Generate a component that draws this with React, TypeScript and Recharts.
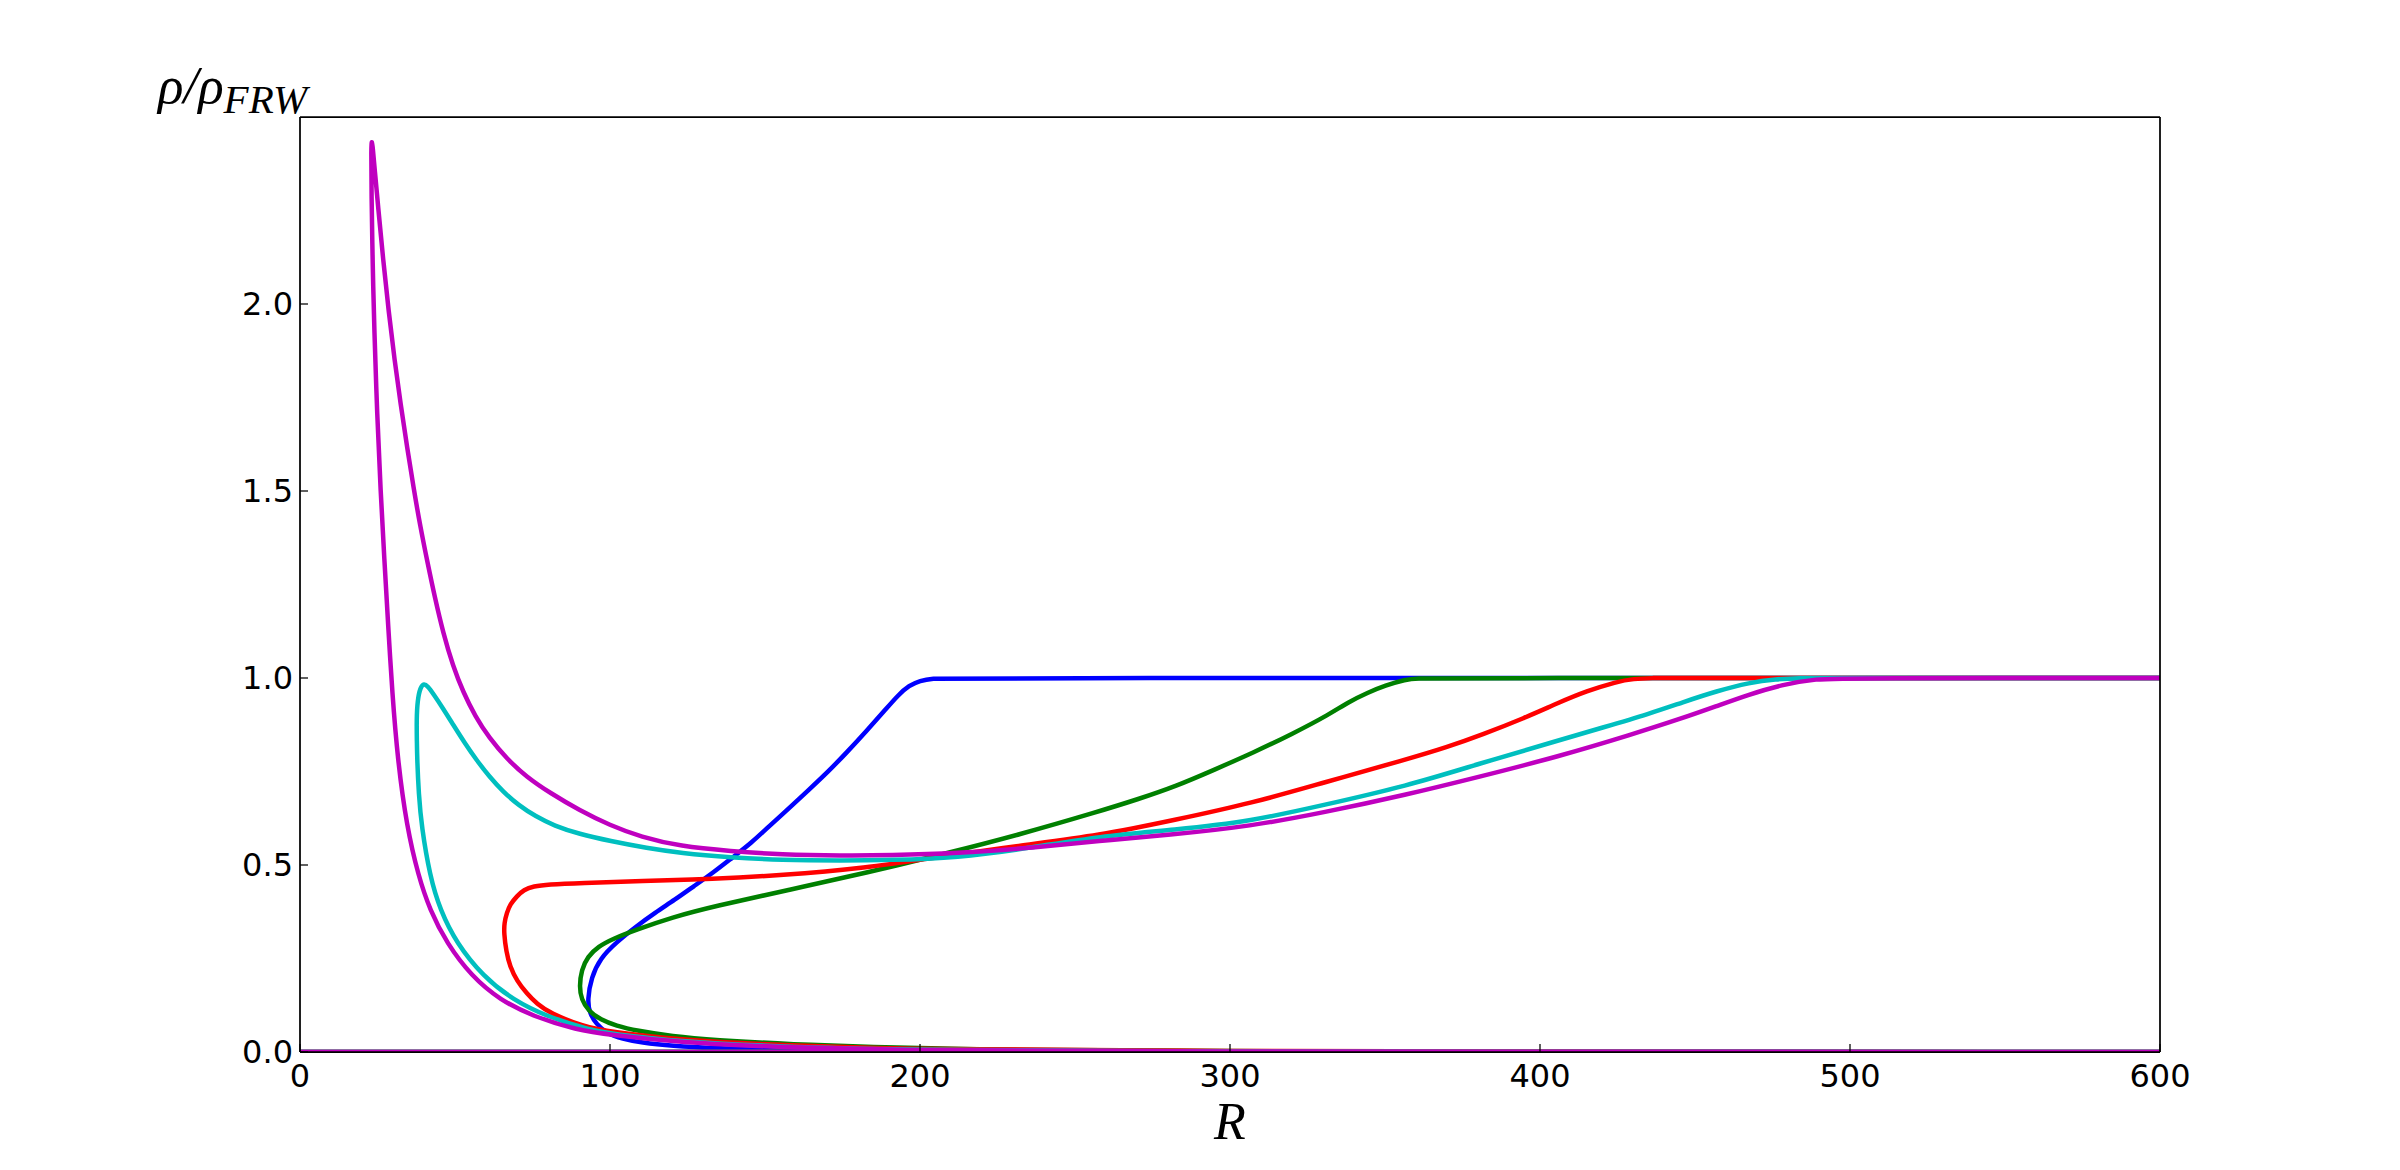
import { LineChart, Line, XAxis, YAxis } from 'recharts'

// each curve: upper branch from the right plateau going left, round the turn,
// lower branch going right down to zero, then back along rho = 0
const blueR = [600, 210, 204, 200, 196.5, 193, 188.5, 182.7, 176.5, 170.3, 164, 157.9, 151.5, 145.6, 139.5, 133.2, 127, 120.9, 114.5, 108.5, 102, 96.8, 94, 92.7, 93.4, 95.5, 99, 104, 110, 120, 133.2, 160, 200, 250, 600, 600, 600, 0]
const blueRho = [1, 1, 0.999, 0.993, 0.98, 0.955, 0.912, 0.858, 0.802, 0.749, 0.7, 0.653, 0.605, 0.559, 0.52, 0.479, 0.443, 0.407, 0.372, 0.336, 0.293, 0.25, 0.2, 0.139, 0.105, 0.075, 0.05, 0.035, 0.025, 0.016, 0.01, 0.004, 0.001, 0, 0, 0, 0, 0]

const greenR = [600, 369, 360, 356.8, 350, 344.5, 338, 332.1, 320, 307.4, 295, 282.7, 270, 258, 232, 208, 182.6, 158, 133.2, 120, 108.5, 101, 96.2, 92.8, 90.8, 90.1, 90.8, 93, 97, 102, 108.5, 120, 133.2, 160, 182.6, 220, 270, 600, 600, 600, 0]
const greenRho = [1, 1, 0.999, 0.996, 0.98, 0.961, 0.935, 0.903, 0.85, 0.8, 0.755, 0.711, 0.675, 0.644, 0.581, 0.53, 0.479, 0.434, 0.389, 0.36, 0.327, 0.303, 0.282, 0.255, 0.22, 0.175, 0.14, 0.11, 0.086, 0.07, 0.057, 0.042, 0.032, 0.02, 0.014, 0.006, 0.001, 0, 0, 0, 0]

const redR = [600, 440, 437, 430, 424.7, 415, 406, 395, 381.5, 370, 356.8, 330, 307.4, 282, 258, 232, 205, 182.6, 155, 133.2, 110, 90.3, 80, 75.3, 72.2, 69.9, 67.8, 66.7, 65.9, 65.8, 66.5, 67.7, 70, 73.1, 76.5, 80.6, 91.4, 100, 122.6, 154.8, 195, 250, 600, 600, 600, 0]
const redRho = [1, 1, 1, 0.998, 0.99, 0.965, 0.934, 0.893, 0.849, 0.815, 0.782, 0.72, 0.666, 0.62, 0.579, 0.552, 0.52, 0.492, 0.472, 0.463, 0.457, 0.452, 0.448, 0.443, 0.434, 0.416, 0.395, 0.372, 0.345, 0.318, 0.27, 0.229, 0.19, 0.157, 0.128, 0.104, 0.068, 0.054, 0.032, 0.018, 0.008, 0.002, 0, 0, 0, 0]

const cyanR = [600, 490, 484, 476, 467.7, 457, 446, 435.5, 420, 406, 380, 357, 330, 307, 282, 258, 235, 212, 190, 175, 155, 139, 122.6, 112, 100, 90, 82, 76, 70.5, 65.6, 61, 57, 53, 49.5, 46.2, 43, 41.2, 40, 38.8, 37.9, 37.6, 37.7, 37.8, 38.3, 39.2, 41.9, 45.2, 50.5, 59.1, 68.8, 79.6, 93.5, 101, 122.6, 154.8, 195, 250, 600, 600, 600, 0]
const cyanRho = [1, 1, 1, 0.997, 0.988, 0.965, 0.935, 0.905, 0.867, 0.833, 0.77, 0.711, 0.66, 0.617, 0.594, 0.577, 0.545, 0.519, 0.513, 0.512, 0.513, 0.52, 0.532, 0.545, 0.564, 0.583, 0.605, 0.63, 0.66, 0.695, 0.737, 0.78, 0.828, 0.874, 0.918, 0.958, 0.978, 0.986, 0.975, 0.94, 0.889, 0.83, 0.782, 0.69, 0.604, 0.47, 0.38, 0.291, 0.202, 0.139, 0.095, 0.059, 0.048, 0.028, 0.014, 0.006, 0.001, 0, 0, 0, 0]

const magentaR = [600, 500, 489, 478, 467, 457, 445, 430, 406, 380, 357, 330, 307, 280, 258, 235, 212, 190, 175, 155, 139, 122.6, 110, 100, 90, 80.6, 73, 66.7, 61, 56.5, 52.7, 49.3, 46.2, 43.5, 41.1, 38.8, 36.6, 34.5, 32.5, 30.5, 28.6, 26.8, 25.2, 24.1, 23.5, 23.2, 22.95, 23.05, 23.45, 23.95, 24.9, 26.0, 27.2, 28.45, 29.75, 31.5, 34.4, 38.2, 41.9, 47.3, 55.4, 64.5, 75.3, 89.2, 100, 122.6, 154.8, 195, 250, 600, 600, 600, 0]
const magentaRho = [1, 1, 0.998, 0.982, 0.955, 0.925, 0.89, 0.85, 0.79, 0.735, 0.688, 0.64, 0.604, 0.58, 0.565, 0.545, 0.531, 0.526, 0.525, 0.528, 0.537, 0.55, 0.575, 0.606, 0.647, 0.693, 0.736, 0.784, 0.84, 0.898, 0.961, 1.033, 1.12, 1.215, 1.31, 1.405, 1.51, 1.62, 1.73, 1.85, 1.98, 2.12, 2.26, 2.36, 2.415, 2.44, 2.42, 2.3, 2.1, 1.935, 1.7, 1.5, 1.318, 1.139, 0.961, 0.782, 0.604, 0.47, 0.38, 0.291, 0.202, 0.139, 0.095, 0.059, 0.046, 0.025, 0.013, 0.005, 0.001, 0, 0, 0, 0]

const xTicks = [0, 100, 200, 300, 400, 500, 600]
const yTicks = [0, 0.5, 1.0, 1.5, 2.0]

const toPoints = (rs: number[], rhos: number[]) => rs.map((r, i) => ({ R: r, rho: rhos[i] }))

const series = [
  { name: 'blue', color: '#0000ff', data: toPoints(blueR, blueRho) },
  { name: 'green', color: '#008000', data: toPoints(greenR, greenRho) },
  { name: 'red', color: '#ff0000', data: toPoints(redR, redRho) },
  { name: 'cyan', color: '#00bfbf', data: toPoints(cyanR, cyanRho) },
  { name: 'magenta', color: '#bf00bf', data: toPoints(magentaR, magentaRho) },
]

const tickFont = { fill: '#000', fontSize: 32, fontFamily: 'DejaVu Sans' }

const YLabel = (props: any) => {
  const { viewBox } = props
  return (
    <text
      x={viewBox.x - 42}
      y={viewBox.y - 14}
      fontFamily="Liberation Serif"
      fontStyle="italic"
      fontSize={53}
      fill="#000"
    >
      <tspan>ρ/ρ</tspan>
      <tspan fontSize={41} dy={10}>FRW</tspan>
    </text>
  )
}

const XLabel = (props: any) => {
  const { viewBox } = props
  return (
    <text
      x={viewBox.x + viewBox.width / 2}
      y={viewBox.y + 87}
      textAnchor="middle"
      fontFamily="Liberation Serif"
      fontStyle="italic"
      fontSize={52}
      fill="#000"
    >
      R
    </text>
  )
}

export default function App() {
  return (
    <div style={{ position: 'absolute', left: 0, top: 0, background: '#fff' }}>
      <LineChart width={2400} height={1170} margin={{ top: 107, right: 230, bottom: 58, left: 200 }}>
        <XAxis
          type="number"
          dataKey="R"
          domain={[0, 600]}
          ticks={xTicks}
          allowDataOverflow
          height={60}
          tickSize={-8}
          tickMargin={20}
          tick={tickFont}
          axisLine={{ stroke: '#000', strokeWidth: 1.75 }}
          tickLine={{ stroke: '#000', strokeWidth: 1.25 }}
          label={<XLabel />}
        />
        <XAxis
          xAxisId="top"
          orientation="top"
          type="number"
          dataKey="R"
          domain={[0, 600]}
          ticks={xTicks}
          allowDataOverflow
          height={10}
          tickSize={-8}
          tick={false}
          axisLine={{ stroke: '#000', strokeWidth: 1.75 }}
          tickLine={{ stroke: '#000', strokeWidth: 1.25 }}
        />
        <YAxis
          type="number"
          dataKey="rho"
          domain={[0, 2.5]}
          ticks={yTicks}
          allowDataOverflow
          width={100}
          tickSize={-8}
          tickMargin={15}
          tick={tickFont}
          tickFormatter={(v: number) => v.toFixed(1)}
          axisLine={{ stroke: '#000', strokeWidth: 1.75 }}
          tickLine={{ stroke: '#000', strokeWidth: 1.25 }}
          label={<YLabel />}
        />
        <YAxis
          yAxisId="right"
          orientation="right"
          type="number"
          domain={[0, 2.5]}
          ticks={yTicks}
          allowDataOverflow
          width={10}
          tickSize={-8}
          tick={false}
          axisLine={{ stroke: '#000', strokeWidth: 1.75 }}
          tickLine={{ stroke: '#000', strokeWidth: 1.25 }}
        />
        {series.map((s) => (
          <Line
            key={s.name}
            data={s.data}
            dataKey="rho"
            type="basis"
            stroke={s.color}
            strokeWidth={4.5}
            dot={false}
            activeDot={false}
            isAnimationActive={false}
          />
        ))}
      </LineChart>
    </div>
  )
}
